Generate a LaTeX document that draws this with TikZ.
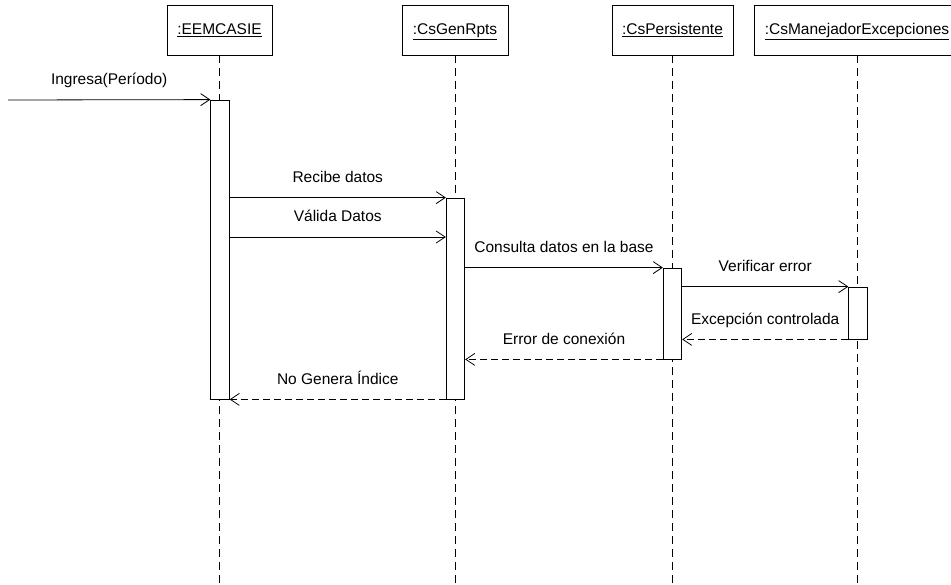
\documentclass[tikz,border=0pt]{standalone}
\usepackage{fontspec}
\setmainfont{Liberation Sans}
\usepackage{tikz}
\usetikzlibrary{arrows.meta, positioning, calc}

\begin{document}
\begin{tikzpicture}[x=1pt, y=-1pt, line width=0.8pt,
	font=\fontsize{15.5}{18}\selectfont,
	obj/.style={draw, rectangle, minimum height=50pt, inner sep=0pt, text height=12pt, text depth=2pt},
	bar/.style={draw, rectangle, fill=white, minimum width=18.5pt, inner sep=0pt},
	life/.style={dash pattern=on 8pt off 5pt},
	msg/.style={-{Straight Barb[length=9pt, width=12pt]}},
	ret/.style={msg, dash pattern=on 7pt off 4pt},
	lbl/.style={midway, anchor=base, yshift=15pt, inner sep=0pt}]
						\useasboundingbox (0,0) rectangle (951,585);
						\node[obj, minimum width=105pt] (eem) at (219.5,30) {\underline{:EEMCASIE}};
						\node[obj, minimum width=106pt] (gen) at (455,30) {\underline{:CsGenRpts}};
						\node[obj, minimum width=121pt] (per) at (672.5,30) {\underline{:CsPersistente}};
						\node[obj, minimum width=206pt] (man) at (857,30) {\underline{:CsManejadorExcepciones}};
						\coordinate (start) at (8,100);
						\draw[life]
						(eem) -- (eem |- 0,585)
						(gen) -- (gen |- 0,585)
						(per) -- (per |- 0,585)
						(man) -- (man |- 0,585);
						\node[bar, minimum height=299pt] (bE) at (220,249.5) {};
						\node[bar, minimum height=201pt] (bG) at (455.5,298.5) {};
						\node[bar, minimum height=91pt] (bP) at (672.5,313.5) {};
						\node[bar, minimum height=52pt] (bM) at (858,313) {};
						\draw
						(start) edge[msg] node[lbl] {Ingresa(Período)} (bE.north west)
						(bE.east |- bG.north) edge[msg] node[lbl] {Recibe datos} (bG.north west)
						(bE.east |- 0,237) edge[msg] node[lbl] {Válida Datos} (bG.west |- 0,237)
						(bG.east |- bP.north) edge[msg] node[lbl] {Consulta datos en la base} (bP.north west)
						(bP.east |- bM.north) edge[msg] node[lbl] {Verificar error} (bM.north west)
						(bM.south west) edge[ret] node[lbl] {Excepción controlada} (bP.east |- bM.south)
						(bP.south west) edge[ret] node[lbl] {Error de conexión} (bG.east |- bP.south)
						(bG.south west) edge[ret] node[lbl] {No Genera Índice} (bE.south east);
					\end{tikzpicture}
\end{document}
